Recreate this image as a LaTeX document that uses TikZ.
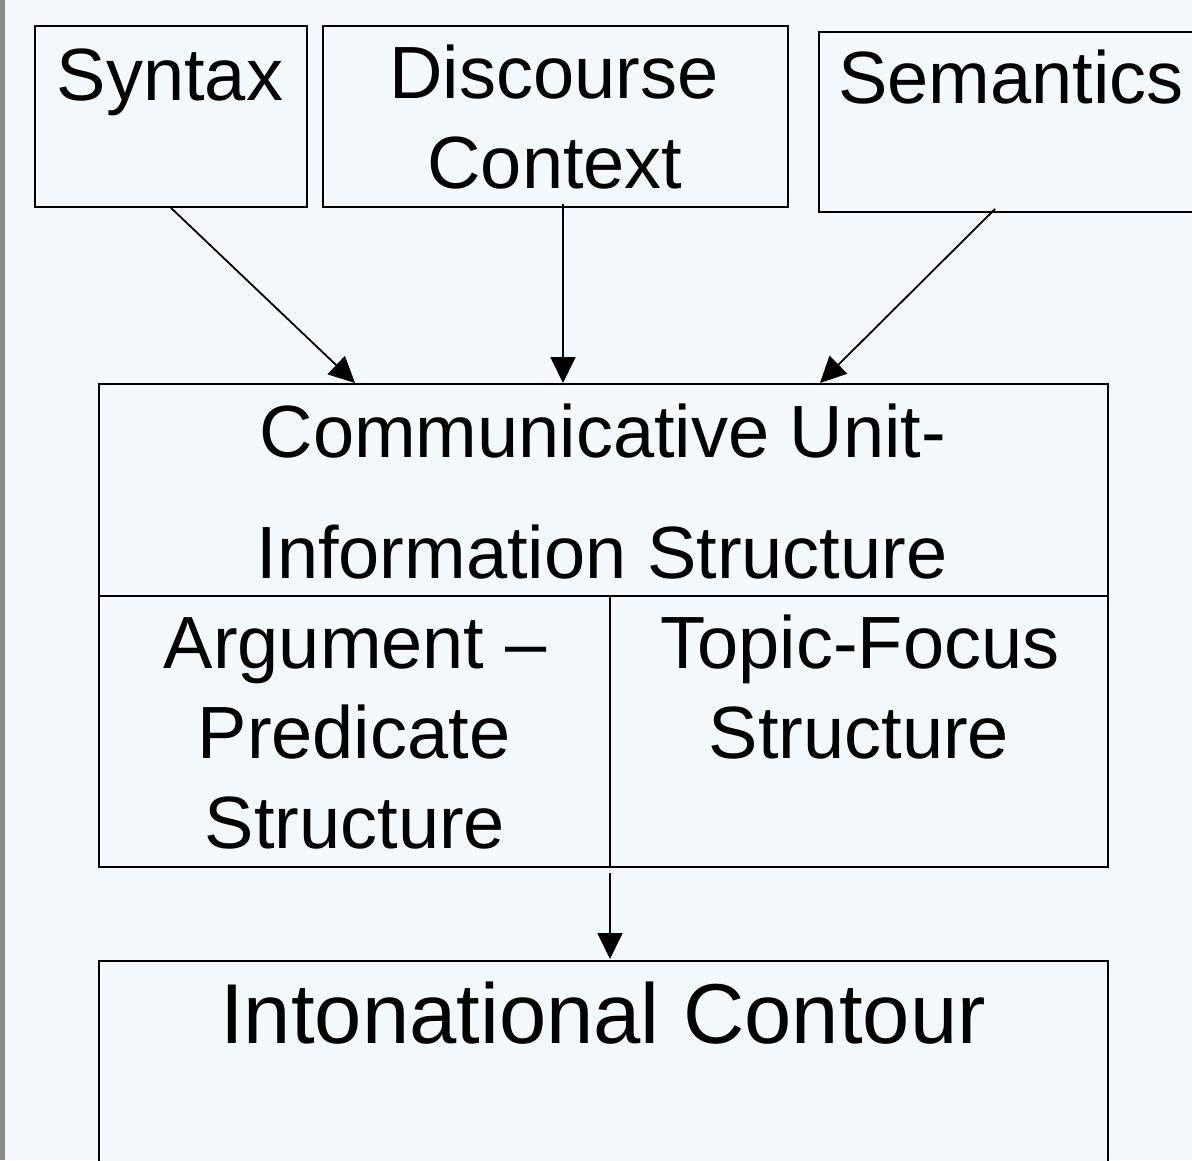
\documentclass[tikz,border=0pt]{standalone}
\usepackage{fontspec}
\setmainfont{Liberation Sans}
\usetikzlibrary{arrows.meta,calc}
\definecolor{bgc}{HTML}{F4F9FE}
\definecolor{barc}{HTML}{8A8A8A}
\tikzset{
  box/.style={draw=black, line width=1.8pt, fill=bgc, inner sep=0pt, anchor=north west},
  txt/.style={anchor=base, inner sep=0pt, font=\fontsize{74}{90}\selectfont},
  bigtxt/.style={anchor=base, inner sep=0pt, font=\fontsize{85}{100}\selectfont},
  arr/.style={line width=1.8pt, -{Triangle[length=26pt,width=25pt]}}
}
\begin{document}
\begin{tikzpicture}[x=1pt,y=-1pt]
\useasboundingbox (0,0) rectangle (1192,1160);
\clip (0,0) rectangle (1192,1160);
\fill[bgc] (0,0) rectangle (1192,1160);
\fill[barc] (0,0) rectangle (5,1160);
% top boxes
\node[box, minimum width=272pt, minimum height=181pt] (syntax) at (34,25) {};
\node[box, minimum width=465pt, minimum height=181pt] (disc) at (322,25) {};
\node[box, minimum width=420pt, minimum height=180pt] (sem) at (818,31) {};
\node[txt] (tsyn) at (170,100) {Syntax};
\node[txt] (tdis1) at (554,98) {Discourse};
\node[txt] (tdis2) at (555,188) {Context};
\node[txt, anchor=base west] (tsem) at (838,103) {Semantics};
% communicative unit box
\node[box, minimum width=1009pt, minimum height=483pt] (cu) at (98,383) {};
\coordinate (hl) at (98,596);
\coordinate (hr) at (1107,596);
\coordinate (vt) at (610,596);
\draw[line width=1.8pt] (hl) -- (hr);
\draw[line width=1.8pt] (vt) -- (vt |- cu.south);
\node[txt] (tcu1) at (603,457) {Communicative Unit-};
\node[txt] (tcu2) at (602,578) {Information Structure};
\node[txt] (tap1) at (355,668) {Argument –};
\node[txt] (tap2) at (354,758) {Predicate};
\node[txt] (tap3) at (355,848) {Structure};
\node[txt] (ttf1) at (860,668) {Topic-Focus};
\node[txt] (ttf2) at (859,758) {Structure};
% intonational contour
\node[box, minimum width=1009pt, minimum height=240pt] (ic) at (98,960) {};
\node[bigtxt] (tic) at (603,1043) {Intonational Contour};
% arrows
\coordinate (e1) at (355,383);
\coordinate (s2) at (563,204);
\coordinate (e2) at (563,383);
\coordinate (s3) at (995,209);
\coordinate (e3) at (820,383);
\coordinate (s4) at (610,873);
\coordinate (e4) at (610,959);
\draw[arr] (syntax.south) -- (e1);
\draw[arr] (s2) -- (e2);
\draw[arr] (s3) -- (e3);
\draw[arr] (s4) -- (e4);
\end{tikzpicture}
\end{document}
